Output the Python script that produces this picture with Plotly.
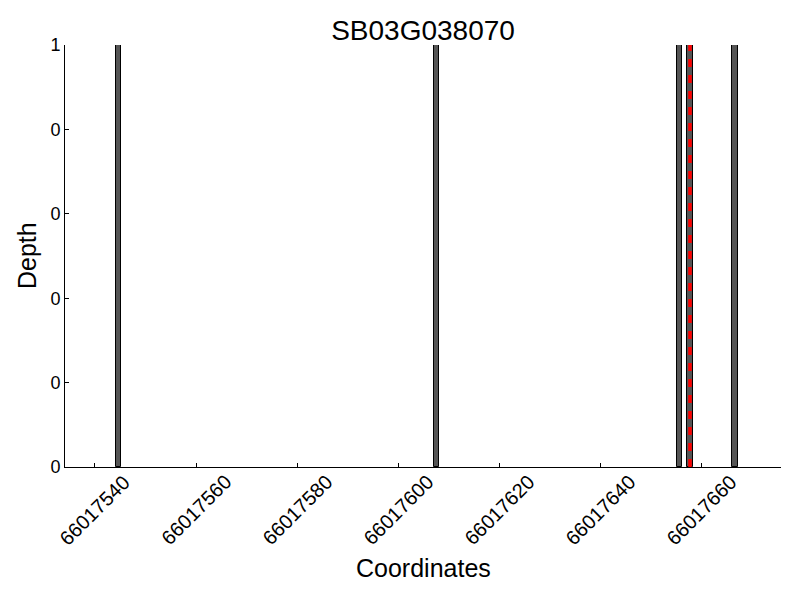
import plotly.graph_objects as go

title = "SB03G038070"
positions = [66017544.7, 66017607.6, 66017655.7, 66017657.7, 66017666.6]
depths = [1, 1, 1, 1, 1]
marker_pos = [66017657.7]
x_ticks = [66017540, 66017560, 66017580, 66017600, 66017620, 66017640, 66017660]
y_ticks = [0, 0.2, 0.4, 0.6, 0.8, 1.0]
y_tick_text = ["0", "0", "0", "0", "0", "1"]

FONT = "Liberation Sans, Arial, sans-serif"
# the page body adds an 8px offset, compensate in the margins
L, R, T, B = 57, 27, 37, 141
plot_h = 600 - T - B
plot_w = 800 - L - R

fig = go.Figure()
fig.add_trace(go.Bar(
    x=positions, y=depths, width=[1.0] * len(positions),
    marker=dict(color="#555555", line=dict(color="black", width=1)),
    showlegend=False,
))
for m in marker_pos:
    fig.add_shape(type="line", x0=m, x1=m, y0=0, y1=1, xref="x", yref="y",
                  line=dict(color="red", width=3.5, dash="8px,8px"))

# rotated x tick labels centred on each tick (matplotlib style)
for t in x_ticks:
    fig.add_annotation(x=t, xref="x", y=-43 / plot_h, yref="paper",
                       text=str(t), textangle=-45, showarrow=False,
                       xanchor="center", yanchor="middle",
                       font=dict(size=20, family=FONT, color="black"))

fig.add_annotation(x=0.5, xref="paper", y=-101 / plot_h, yref="paper",
                   text="Coordinates", showarrow=False,
                   xanchor="center", yanchor="middle",
                   font=dict(size=25, family=FONT, color="black"))
fig.add_annotation(x=-38 / plot_w, xref="paper", y=0.5, yref="paper",
                   text="Depth", textangle=-90, showarrow=False,
                   xanchor="center", yanchor="middle",
                   font=dict(size=25, family=FONT, color="black"))

fig.update_layout(
    width=800, height=600,
    paper_bgcolor="white", plot_bgcolor="white",
    margin=dict(l=L, r=R, t=T, b=B, autoexpand=False),
    font=dict(family=FONT, color="black"),
    title=dict(text=title, x=0.5, xref="paper", xanchor="center",
               y=1 - 22.5 / 600, yanchor="middle",
               font=dict(size=28)),
    bargap=0,
)
fig.update_xaxes(
    range=[66017534.07, 66017675.7],
    tickvals=x_ticks, showticklabels=False,
    ticks="inside", ticklen=4, tickcolor="black",
    showline=True, linecolor="black", linewidth=1, mirror=False,
    showgrid=False, zeroline=False, automargin=False,
)
fig.update_yaxes(
    range=[0, 1],
    tickvals=y_ticks, ticktext=y_tick_text,
    ticks="inside", ticklen=4, tickcolor="black",
    showline=True, linecolor="black", linewidth=1,
    showgrid=False, zeroline=False, automargin=False,
    tickfont=dict(size=18),
)

fig.write_html("out.html")
